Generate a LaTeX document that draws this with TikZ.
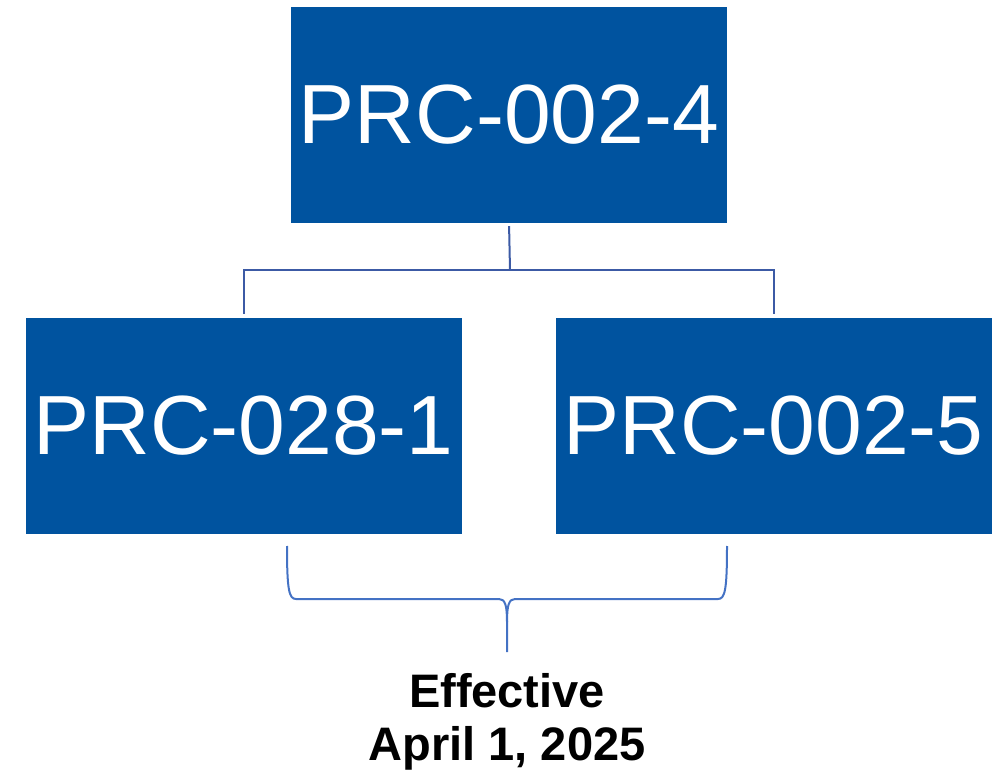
\documentclass[tikz,border=0pt]{standalone}
\usepackage{fontspec}
\setmainfont{Liberation Sans}
\definecolor{boxblue}{RGB}{0,83,159}
\definecolor{linkblue}{RGB}{60,90,165}
\definecolor{braceblue}{RGB}{68,114,196}
\tikzset{
  stdbox/.style={draw=boxblue, fill=boxblue, text=white, minimum width=435pt,
    minimum height=215pt, inner sep=0pt, font=\fontsize{84}{90}\selectfont},
  conn/.style={draw=linkblue, line width=2pt},
  bracepath/.style={draw=braceblue, line width=2pt, line join=round},
  datetext/.style={font=\bfseries\fontsize{47}{53}\selectfont, align=center,
    text=black, inner sep=0pt}
}
\begin{document}
\begin{tikzpicture}[x=1pt, y=-1pt]
  \useasboundingbox (0,0) rectangle (994,775);
  % standards
  \node[stdbox] (top) at (509,114.5) {PRC-002-4};
  \node[stdbox] (left) at (243.5,425.5) {PRC-028-1};
  \node[stdbox] (right) at (773.5,425.5) {PRC-002-5};
  % tree connector
  \coordinate (j) at (510,270);
  \draw[conn, shorten <=4pt] (top.south) -- (j);
  \draw[conn] ([yshift=4pt]left.north) |- (j) -| ([yshift=4pt]right.north);
  % brace grouping the two new standards
  \coordinate (bl) at (287,546);
  \coordinate (br) at (727,546);
  \coordinate (tip) at (507,652);
  \draw[bracepath] (bl) .. controls (287,590) and (289,599) .. (296,599)
    -- (499,599) .. controls (505,599) and (507,605) .. (507,622) -- (tip);
  \draw[bracepath] (br) .. controls (727,590) and (725,599) .. (718,599)
    -- (515,599) .. controls (509,599) and (507,605) .. (507,622);
  \node[datetext, anchor=north] (date) at ([yshift=-21pt]tip) {Effective\\April 1, 2025};
\end{tikzpicture}
\end{document}
